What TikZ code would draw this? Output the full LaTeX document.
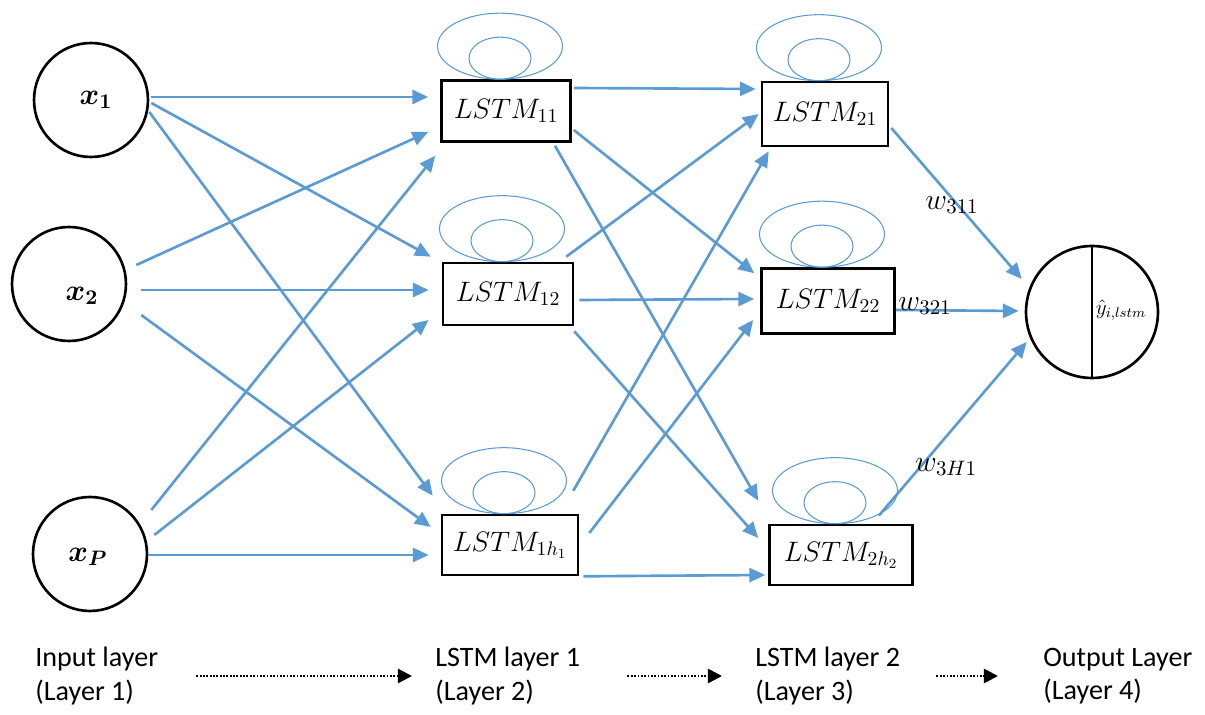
\RequirePackage{fix-cm}
\documentclass[tikz,border=0pt]{standalone}
\usepackage{amsmath}
\usepackage{bm}
\usepackage[no-math]{fontspec}
\setmainfont{Carlito}
\usepackage{xcolor}
\usetikzlibrary{arrows.meta,positioning,calc}
\definecolor{linkblue}{HTML}{5B9BD5}

\begin{document}
\begin{tikzpicture}[x=0.02cm,y=-0.02cm,
    inputnode/.style={circle,draw,line width=1.5pt,inner sep=0pt},
    inputlbl/.style={inner sep=0pt,font=\fontsize{17}{19}\selectfont},
    lstmbox/.style={rectangle,draw,line width=1.5pt,inner sep=0pt,font=\fontsize{16}{18}\selectfont},
    loopline/.style={draw=linkblue,line width=0.6pt},
    link/.style={draw=linkblue,line width=1.5pt,-{Triangle[length=9pt,width=8pt]}},
    wlabel/.style={inner sep=0pt,font=\fontsize{17}{19}\selectfont},
    layertext/.style={anchor=west,align=left,inner sep=0pt,font=\fontsize{16}{19}\selectfont},
    layerarrow/.style={draw,line width=1.5pt,dash pattern=on 1pt off 0.9pt,-{Triangle[length=8pt,width=8pt]}}]
    \useasboundingbox (0,0) rectangle (1205,715);

    % inputs
    \node[inputnode,minimum size=2.28cm] (x1) at (91,100) {};
    \node[inputnode,minimum size=2.28cm] (x2) at (69,284) {};
    \node[inputnode,minimum size=2.28cm] (xP) at (90,554) {};
    \node[inputlbl] (x1lbl) at ($(x1)+(5,0)$) {$\bm{x_1}$};
    \node[inputlbl] (x2lbl) at ($(x2)+(13,12)$) {$\bm{x_2}$};
    \node[inputlbl] (xPlbl) at ($(xP)+(-2,3)$) {$\bm{x_P}$};

    % lstm cells
    \node[lstmbox,minimum width=2.58cm,minimum height=1.22cm] (l11) at (506,111) {$LSTM_{11}$};
    \node[lstmbox,minimum width=2.6cm,minimum height=1.24cm] (l12) at (508,294) {$LSTM_{12}$};
    \node[lstmbox,minimum width=2.72cm,minimum height=1.2cm] (l1h) at (510,545) {$LSTM_{1h_1}$};
    \node[lstmbox,minimum width=2.52cm,minimum height=1.28cm] (l21) at (825,114) {$LSTM_{21}$};
    \node[lstmbox,minimum width=2.66cm,minimum height=1.3cm] (l22) at (828,301) {$LSTM_{22}$};
    \node[lstmbox,minimum width=2.86cm,minimum height=1.2cm] (l2h) at (841,555) {$LSTM_{2h_2}$};

    \foreach \n in {l11,l12,l1h,l21,l22,l2h}{
        \draw[loopline] ($(\n.north)+(-6,-33)$) ellipse (1.25cm and 0.66cm);
        \draw[loopline] ($(\n.north)+(-6,-21)$) ellipse (0.62cm and 0.42cm);
    }

    % output
    \node[circle,draw,line width=1.5pt,minimum size=2.64cm,inner sep=0pt] (out) at (1092,312) {};
    \draw[line width=0.6pt] (out.north) -- (out.south);
    \node[inner sep=0pt,font=\fontsize{12}{14}\selectfont] (yhat) at (1121,310) {$\hat{y}_{i,lstm}$};

    % input -> layer 1
    \draw[link] ($(x1.east)+(2,-3)$) -- ($(l11.west)+(-12,-14)$);
    \draw[link] ($(x1.east)+(2,3)$) -- ($(l12.north west)+(-11,-5)$);
    \draw[link] ($(x1.east)+(0,12)$) -- ($(l1h.north west)+(-8,-18)$);
    \draw[link] ($(x2.east)+(9,-19)$) -- ($(l11.west)+(-12,21)$);
    \draw[link] ($(x2.east)+(14,6)$) -- ($(l12.west)+(-13,-4)$);
    \draw[link] ($(x2.east)+(14,31)$) -- ($(l1h.west)+(-10,-18)$);
    \draw[link] ($(xP.east)+(3,-44)$) -- ($(l11.south west)+(-5,13)$);
    \draw[link] ($(xP.east)+(6,-19)$) -- ($(l12.west)+(-13,26)$);
    \draw[link] ($(xP.east)+(0,1)$) -- ($(l1h.west)+(-12,10)$);

    % layer 1 -> layer 2
    \draw[link] ($(l11.east)+(2,-23)$) -- ($(l21.west)+(-5,-25)$);
    \draw[link] ($(l11.east)+(2,19)$) -- ($(l22.north west)+(-6,6)$);
    \draw[link] ($(l11.south)+(49,3)$) -- ($(l2h.north west)+(-10,-23)$);
    \draw[link] ($(l12.north east)+(-8,-5)$) -- ($(l21.west)+(-2,0)$);
    \draw[link] ($(l12.east)+(5,6)$) -- ($(l22.west)+(-6,-2)$);
    \draw[link] ($(l12.south east)+(0,5)$) -- ($(l2h.west)+(-10,-17)$);
    \draw[link] ($(l1h.north east)+(-6,-23)$) -- ($(l21.south west)+(8,4)$);
    \draw[link] ($(l1h.east)+(10,-12)$) -- ($(l22.west)+(-7,19)$);
    \draw[link] ($(l1h.south east)+(4,0)$) -- ($(l2h.west)+(-3,20)$);

    % layer 2 -> output
    \draw[link] ($(l21.east)+(2,14)$) -- ($(out.west)+(-3,-33)$);
    \draw[link] ($(l22.east)+(0,9)$) -- ($(out.west)+(-6,-1)$);
    \draw[link] ($(l2h.north east)+(-35,-8)$) -- ($(out.west)+(2,30)$);

    \node[wlabel] (w311) at (952,205) {$w_{311}$};
    \node[wlabel] (w321) at (925,306) {$w_{321}$};
    \node[wlabel] (w3h1) at (946,467) {$w_{3H1}$};

    % layer captions
    \node[layertext] (inlbl) at (35,676) {Input layer\\(Layer 1)};
    \node[layertext] (l1lbl) at (435,676) {LSTM layer 1\\(Layer 2)};
    \node[layertext] (l2lbl) at (755,676) {LSTM layer 2\\(Layer 3)};
    \node[layertext] (outlbl) at (1043,676) {Output Layer\\(Layer 4)};
    \draw[layerarrow,shorten <=0.76cm,shorten >=0.46cm] (inlbl) -- (l1lbl);
    \draw[layerarrow,shorten <=0.94cm,shorten >=0.66cm] (l1lbl) -- (l2lbl);
    \draw[layerarrow,shorten <=0.72cm,shorten >=0.9cm] (l2lbl) -- (outlbl);
\end{tikzpicture}
\end{document}
